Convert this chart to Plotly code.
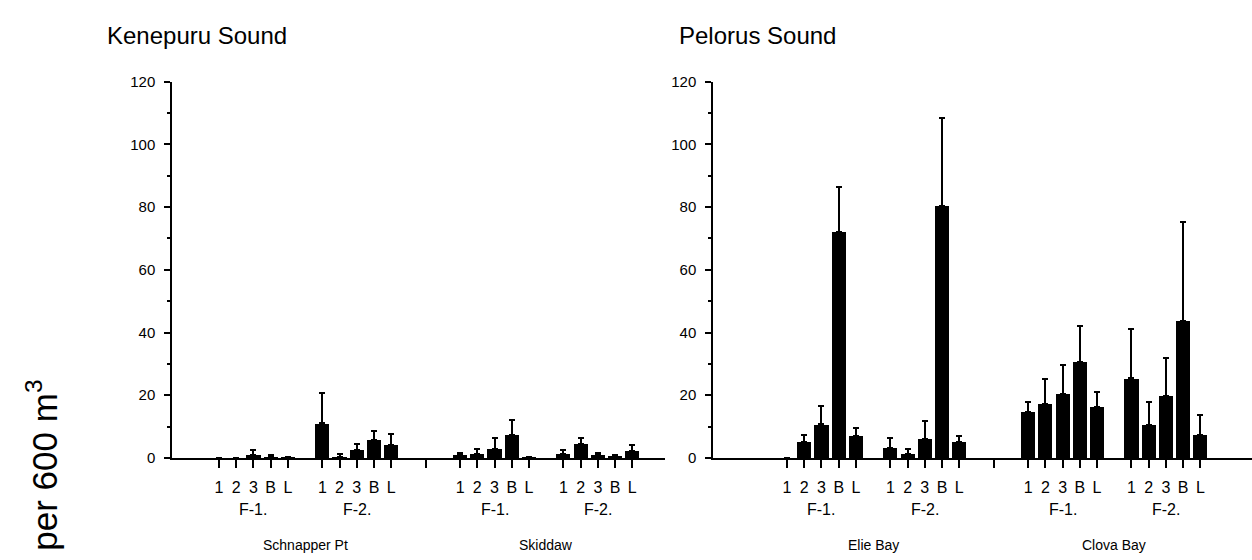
import plotly.graph_objects as go

# ---------------- data ----------------
bar_labels = ["1", "2", "3", "B", "L"]
trip_labels = ["F-1.", "F-2."]
panel_titles = ["Kenepuru Sound", "Pelorus Sound"]
y_label = "per 600 m<sup>3</sup>"
y_ticks = [0, 20, 40, 60, 80, 100, 120]

# Kenepuru Sound
schnapper_f1 = [0.0, 0.0, 1.0, 0.5, 0.2]
schnapper_f1_top = [0.0, 0.0, 2.4, 1.0, 0.4]
schnapper_f2 = [11.0, 0.3, 2.5, 5.8, 4.2]
schnapper_f2_top = [20.8, 1.1, 4.3, 8.7, 7.6]
skiddaw_f1 = [0.9, 1.2, 3.0, 7.4, 0.2]
skiddaw_f1_top = [1.6, 3.0, 6.3, 12.0, 0.4]
skiddaw_f2 = [1.3, 4.4, 1.0, 0.8, 2.3]
skiddaw_f2_top = [2.4, 6.5, 1.5, 1.0, 4.1]

# Pelorus Sound
elie_f1 = [0.0, 5.2, 10.7, 72.1, 7.1]
elie_f1_top = [0.0, 7.4, 16.7, 86.3, 9.5]
elie_f2 = [3.3, 1.4, 6.1, 80.5, 5.2]
elie_f2_top = [6.4, 2.9, 11.8, 108.3, 7.0]
clova_f1 = [14.7, 17.3, 20.4, 30.7, 16.3]
clova_f1_top = [17.9, 25.2, 29.5, 42.0, 21.1]
clova_f2 = [25.4, 10.6, 19.9, 43.7, 7.4]
clova_f2_top = [41.0, 18.0, 32.0, 75.3, 13.6]

panels = [
    {"sites": ["Schnapper Pt", "Skiddaw"],
     "values": [[schnapper_f1, schnapper_f2], [skiddaw_f1, skiddaw_f2]],
     "tops": [[schnapper_f1_top, schnapper_f2_top], [skiddaw_f1_top, skiddaw_f2_top]]},
    {"sites": ["Elie Bay", "Clova Bay"],
     "values": [[elie_f1, elie_f2], [clova_f1, clova_f2]],
     "tops": [[elie_f1_top, elie_f2_top], [clova_f1_top, clova_f2_top]]},
]

# ---------------- layout constants ----------------
W, H = 1252, 560
FONT = "Liberation Sans, Arial, Helvetica, sans-serif"
site_offset = [0, 14]
trip_offset = [0, 6]
separator = 12
x_domains = [[172 / W, 665 / W], [713 / W, 1.0]]
x_ranges = [[-2.73, 25.9], [-4.3, 27.0]]
y_domain = [1 - 463 / H, 1 - 75 / H]
title_x_px = [105, 677]

fig = go.Figure()
annotations = []

for p, panel in enumerate(panels):
    xa = "x" if p == 0 else "x2"
    ya = "y" if p == 0 else "y2"
    tickvals, ticktext = [], []
    for s, site in enumerate(panel["sites"]):
        for t, trip in enumerate(trip_labels):
            base = site_offset[s] + trip_offset[t]
            xs = [base + i for i in range(len(bar_labels))]
            vals = panel["values"][s][t]
            tops = panel["tops"][s][t]
            plus = [max(tp - v, 0) for tp, v in zip(tops, vals)]
            fig.add_trace(go.Bar(
                x=xs, y=vals, width=0.82, marker=dict(color="black", line=dict(width=0)),
                error_y=dict(type="data", symmetric=False, array=plus,
                             arrayminus=[0] * len(vals), thickness=2, width=3, color="black"),
                xaxis=xa, yaxis=ya, showlegend=False, hoverinfo="skip"))
            tickvals += xs
            ticktext += bar_labels
            annotations.append(dict(x=base + 2, y=1 - 516 / H, xref=xa, yref="paper",
                                    xanchor="center", yanchor="middle",
                                    text=trip, showarrow=False,
                                    font=dict(family=FONT, size=16, color="black")))
        annotations.append(dict(x=site_offset[s] + 5, y=1 - 553 / H, xref=xa, yref="paper",
                                xanchor="center", yanchor="middle",
                                text=site, showarrow=False,
                                font=dict(family=FONT, size=14, color="black")))
    tickvals.append(separator)
    ticktext.append(" ")
    axis_x = dict(domain=x_domains[p], range=x_ranges[p], tickvals=tickvals, ticktext=ticktext,
                  ticks="outside", ticklen=8, tickwidth=1.5, tickcolor="black",
                  showline=True, linecolor="black", linewidth=2, showgrid=False, zeroline=False,
                  anchor=ya, ticklabelstandoff=6,
                  tickfont=dict(family=FONT, size=16, color="black"))
    axis_y = dict(domain=y_domain, range=[0, 120], tickvals=y_ticks,
                  ticks="outside", ticklen=6, tickwidth=1.5, tickcolor="black",
                  minor=dict(dtick=10, ticks="outside", ticklen=3, tickwidth=1.5, tickcolor="black"),
                  showline=True, linecolor="black", linewidth=1.5, showgrid=False, zeroline=False,
                  anchor=xa, ticklabelstandoff=6,
                  tickfont=dict(family=FONT, size=15, color="black"))
    if p == 0:
        fig.update_layout(xaxis=axis_x, yaxis=axis_y)
    else:
        fig.update_layout(xaxis2=axis_x, yaxis2=axis_y)
    annotations.append(dict(x=title_x_px[p] / W, y=1 - 27 / H, xref="paper", yref="paper",
                            xanchor="left", yanchor="middle", text=panel_titles[p], showarrow=False,
                            font=dict(family=FONT, size=24, color="black")))

annotations.append(dict(x=42 / W, y=1 - 471 / H, xref="paper", yref="paper", text=y_label,
                        textangle=-90, showarrow=False, xanchor="center", yanchor="middle",
                        font=dict(family=FONT, size=35, color="black")))

fig.update_layout(width=W, height=H, margin=dict(l=0, r=0, t=0, b=0),
                  paper_bgcolor="white", plot_bgcolor="white", bargap=0,
                  annotations=annotations, font=dict(family=FONT, color="black"))

fig.write_html("out.html")
